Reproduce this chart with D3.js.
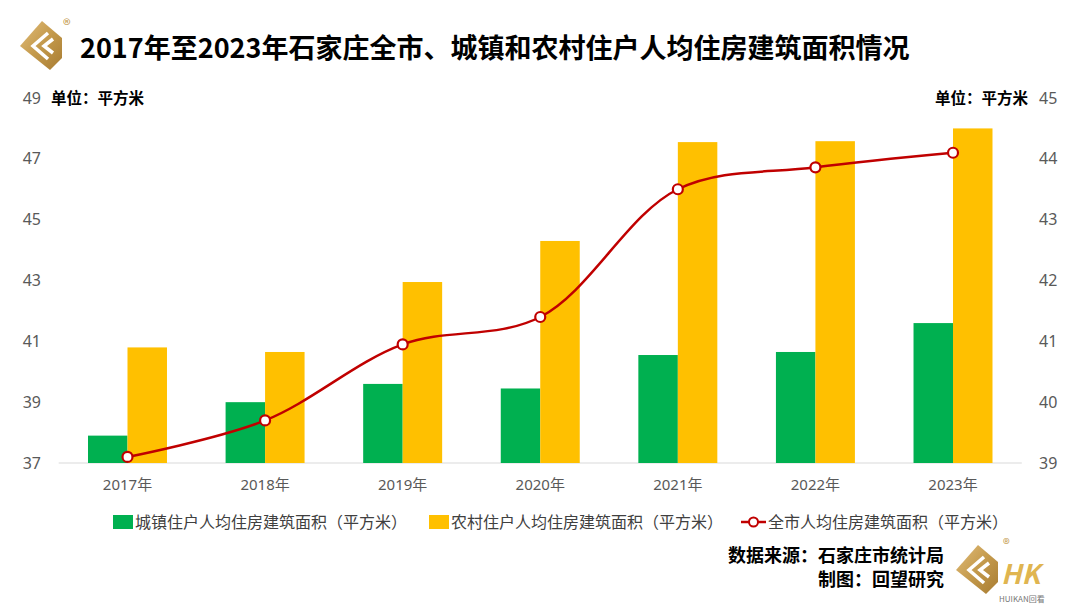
<!DOCTYPE html>
<html lang="zh">
<head>
<meta charset="utf-8">
<title>石家庄住户人均住房建筑面积</title>
<script src="https://cdn.jsdelivr.net/npm/d3@7/dist/d3.min.js"></script>
<style>
    body { margin: 0; background: #fff; }
    svg { display: block; font-family: "Noto Sans CJK SC", "Noto Sans", sans-serif; }
    .axis text { font-family: "Noto Sans", "Noto Sans CJK SC", sans-serif; font-size: 16px; fill: #595959; }
    .axis path, .axis line { display: none; }
</style>
</head>
<body>
<div id="chart"></div>
<script>
// data
var years = ["2017年", "2018年", "2019年", "2020年", "2021年", "2022年", "2023年"];
var urban = [37.9, 39.0, 39.6, 39.45, 40.55, 40.65, 41.6];   // 城镇 (left axis)
var rural = [40.8, 40.65, 42.95, 44.3, 47.55, 47.58, 48.0];   // 农村 (left axis)
var city  = [39.1, 39.7, 40.95, 41.4, 43.5, 43.86, 44.1];     // 全市 (right axis)
var leftTicks = [37, 39, 41, 43, 45, 47, 49];
var rightTicks = [39, 40, 41, 42, 43, 44, 45];
var seriesNames = ["城镇住户人均住房建筑面积（平方米）", "农村住户人均住房建筑面积（平方米）", "全市人均住房建筑面积（平方米）"];

var width = 1080, height = 607;
var green = "#00B050", yellow = "#FFC000", red = "#C00000";

var svg = d3.select("#chart").append("svg")
    .attr("width", width)
    .attr("height", height);

var x = d3.scaleBand().domain(years).range([58.7, 1021.8]);
var bw = x.bandwidth();
var sub = d3.scaleBand().domain(["urban", "rural"]).range([bw * 0.213, bw * 0.787]);
var yL = d3.scaleLinear().domain([37, 49]).range([463, 98]);
var yR = d3.scaleLinear().domain([39, 45]).range([463, 98]);

// baseline
svg.append("line")
    .attr("x1", x.range()[0]).attr("x2", x.range()[1])
    .attr("y1", yL(37)).attr("y2", yL(37))
    .attr("stroke", "#D9D9D9").attr("stroke-width", 1);

// axes
svg.append("g")
    .attr("class", "axis")
    .attr("transform", "translate(41,0)")
    .call(d3.axisLeft(yL).tickValues(leftTicks).tickFormat(d3.format("d")).tickSize(0).tickPadding(0));

svg.append("g")
    .attr("class", "axis")
    .attr("transform", "translate(1039,0)")
    .call(d3.axisRight(yR).tickValues(rightTicks).tickFormat(d3.format("d")).tickSize(0).tickPadding(0));

svg.append("g")
    .attr("class", "axis")
    .attr("transform", "translate(0," + (yL(37) + 22) + ")")
    .call(d3.axisBottom(x).tickSize(0).tickPadding(0))
    .selectAll("text").style("font-size", "15px").attr("dy", "0.35em");

// bars
var groups = svg.selectAll(".grp")
    .data(years)
    .enter().append("g")
    .attr("class", "grp")
    .attr("transform", function(d) { return "translate(" + x(d) + ",0)"; });

groups.append("rect")
    .attr("x", sub("urban"))
    .attr("width", sub.bandwidth())
    .attr("y", function(d, i) { return yL(urban[i]); })
    .attr("height", function(d, i) { return yL(37) - yL(urban[i]); })
    .attr("fill", green);

groups.append("rect")
    .attr("x", sub("rural"))
    .attr("width", sub.bandwidth())
    .attr("y", function(d, i) { return yL(rural[i]); })
    .attr("height", function(d, i) { return yL(37) - yL(rural[i]); })
    .attr("fill", yellow);

// line
var pts = years.map(function(d, i) { return [x(d) + bw / 2, yR(city[i])]; });
svg.append("path")
    .attr("d", d3.line().curve(d3.curveCatmullRom.alpha(0.5))(pts))
    .attr("fill", "none")
    .attr("stroke", red)
    .attr("stroke-width", 2.5);

svg.selectAll(".dot")
    .data(pts)
    .enter().append("circle")
    .attr("class", "dot")
    .attr("cx", function(d) { return d[0]; })
    .attr("cy", function(d) { return d[1]; })
    .attr("r", 5)
    .attr("fill", "#fff")
    .attr("stroke", red)
    .attr("stroke-width", 2.2);

// title
svg.append("text")
    .attr("x", 80).attr("y", 58)
    .attr("font-size", "27px").attr("font-weight", "bold").attr("fill", "#000")
    .text("2017年至2023年石家庄全市、城镇和农村住户人均住房建筑面积情况");

// unit labels
svg.append("text")
    .attr("x", 51).attr("y", 104)
    .attr("font-size", "15.5px").attr("font-weight", "bold")
    .text("单位：平方米");
svg.append("text")
    .attr("x", 1028).attr("y", 104)
    .attr("text-anchor", "end")
    .attr("font-size", "15.5px").attr("font-weight", "bold")
    .text("单位：平方米");

// legend
var legY = 522;
var leg = svg.append("g").attr("font-size", "16px").attr("fill", "#404040");
leg.append("rect").attr("x", 113).attr("y", legY - 7).attr("width", 20).attr("height", 14).attr("fill", green);
leg.append("text").attr("x", 135).attr("y", legY).attr("dy", "0.35em").text(seriesNames[0]);
leg.append("rect").attr("x", 429).attr("y", legY - 7).attr("width", 20).attr("height", 14).attr("fill", yellow);
leg.append("text").attr("x", 451).attr("y", legY).attr("dy", "0.35em").text(seriesNames[1]);
leg.append("line").attr("x1", 741).attr("x2", 766).attr("y1", legY).attr("y2", legY)
    .attr("stroke", red).attr("stroke-width", 2.5);
leg.append("circle").attr("cx", 753.5).attr("cy", legY).attr("r", 4.5)
    .attr("fill", "#fff").attr("stroke", red).attr("stroke-width", 2);
leg.append("text").attr("x", 768).attr("y", legY).attr("dy", "0.35em").text(seriesNames[2]);

// source
svg.append("text")
    .attr("x", 944).attr("y", 562)
    .attr("text-anchor", "end").attr("font-size", "18px").attr("font-weight", "bold")
    .text("数据来源：石家庄市统计局");
svg.append("text")
    .attr("x", 944).attr("y", 586)
    .attr("text-anchor", "end").attr("font-size", "18px").attr("font-weight", "bold")
    .text("制图：回望研究");

// logos
var defs = svg.append("defs");
var grad = defs.append("linearGradient").attr("id", "gold")
    .attr("x1", "0").attr("y1", "0").attr("x2", "1").attr("y2", "1");
grad.append("stop").attr("offset", "0").attr("stop-color", "#E2BD7A");
grad.append("stop").attr("offset", "0.5").attr("stop-color", "#C49A4C");
grad.append("stop").attr("offset", "1").attr("stop-color", "#A87C32");

function logo(g, s, regX, regY, regSize) {
    g.append("path")
        .attr("d", "M0,-25 L20,-8 L20,12 L8,24 L-22,0 Z")
        .attr("transform", "scale(" + s + ")")
        .attr("fill", "url(#gold)");
    g.append("path")
        .attr("d", "M6,-13 L-9,0 L6,13 M11,-7 L2,0 L11,7")
        .attr("transform", "scale(" + s + ")")
        .attr("fill", "none").attr("stroke", "#fff").attr("stroke-width", 3.5);
    g.append("text").attr("x", regX).attr("y", regY)
        .attr("font-size", regSize + "px").attr("fill", "#C49A4C").text("®");
}
logo(svg.append("g").attr("transform", "translate(42,46)"), 1, 21, -15, 16);

var br = svg.append("g").attr("transform", "translate(978,570)");
logo(br, 1.0, 25, -21, 14);
br.append("text").attr("x", 23).attr("y", 14)
    .attr("font-size", "27px").attr("font-weight", "bold").attr("font-style", "italic")
    .attr("fill", "#E0B550").text("HK");
br.append("text").attr("x", 21).attr("y", 32)
    .attr("font-size", "8px").attr("fill", "#777").text("HUIKAN回看");
</script>
</body>
</html>
